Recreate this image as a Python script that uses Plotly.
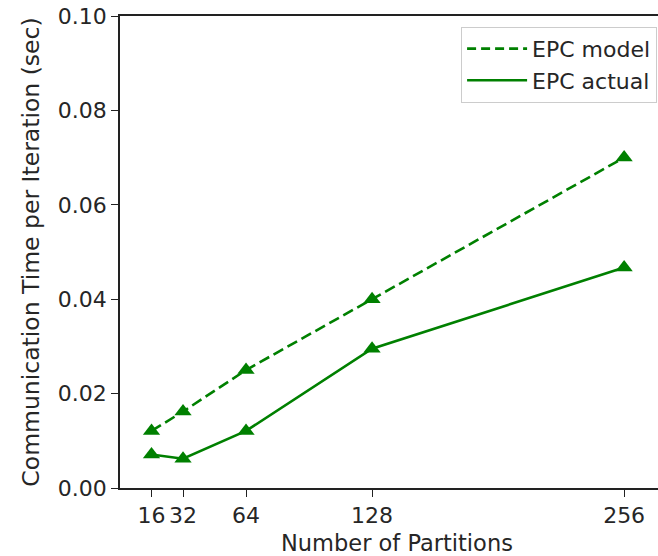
import plotly.graph_objects as go

partitions = [16, 32, 64, 128, 256]
epc_model = [0.0121, 0.0162, 0.0250, 0.0400, 0.0700]
epc_actual = [0.0071, 0.0062, 0.0121, 0.0295, 0.0467]
x_ticks = [16, 32, 64, 128, 256]
y_ticks = [0.00, 0.02, 0.04, 0.06, 0.08, 0.10]

green = "#008000"
font = "DejaVu Sans"
txt = "#262626"

fig = go.Figure()
fig.add_trace(go.Scatter(
    x=partitions, y=epc_model, name="EPC model", mode="lines+markers",
    line=dict(color=green, width=2.6, dash="11px,5px"),
    marker=dict(symbol="triangle-up", size=15, color=green),
    showlegend=False,
))
fig.add_trace(go.Scatter(
    x=partitions, y=epc_actual, name="EPC actual", mode="lines+markers",
    line=dict(color=green, width=2.6),
    marker=dict(symbol="triangle-up", size=15, color=green),
    showlegend=False,
))
# legend entries (line only, as in the reference)
fig.add_trace(go.Scatter(
    x=[None], y=[None], name="EPC model", mode="lines",
    line=dict(color=green, width=2.6, dash="9px,5px"),
))
fig.add_trace(go.Scatter(
    x=[None], y=[None], name="EPC actual", mode="lines",
    line=dict(color=green, width=2.6),
))

fig.update_layout(
    width=658, height=556,
    margin=dict(l=120, r=0, t=16, b=68, autoexpand=False),
    plot_bgcolor="white", paper_bgcolor="white",
    font=dict(family=font, size=22, color=txt),
    showlegend=True,
    legend=dict(
        x=0.634, y=0.977, xanchor="left", yanchor="top",
        bordercolor="#cccccc", borderwidth=1, bgcolor="white",
        font=dict(size=22, color=txt),
        tracegroupgap=0, itemwidth=60,
    ),
    annotations=[dict(
        text="Number of Partitions", xref="paper", yref="paper",
        x=0.515, y=-0.1165, xanchor="center", yanchor="middle",
        showarrow=False, font=dict(size=22.5, color=txt),
    )],
)
fig.update_xaxes(
    range=[0, 273.2], tickmode="array", tickvals=x_ticks,
    ticktext=[str(v) for v in x_ticks],
    showgrid=False, zeroline=False, automargin=False,
    showline=True, linecolor="#222222", linewidth=1.5, mirror=True,
    ticks="outside", ticklen=7, tickwidth=1.3, tickcolor="#222222",
    ticklabeloverflow="allow",
)
fig.update_yaxes(
    range=[0, 0.1], tickmode="array", tickvals=y_ticks,
    ticktext=[f"{v:.2f}" for v in y_ticks],
    showgrid=False, zeroline=False, automargin=False,
    showline=True, linecolor="#222222", linewidth=1.5,
    ticks="outside", ticklen=7, tickwidth=1.3, tickcolor="#222222",
    ticklabeloverflow="allow",
    title=dict(text="Communication Time per Iteration (sec)", font=dict(size=23.5), standoff=12),
)

fig.write_html(
    "out.html",
    config={"displayModeBar": False},
    post_script="document.body.style.margin='0px';document.body.style.overflow='hidden';",
)
